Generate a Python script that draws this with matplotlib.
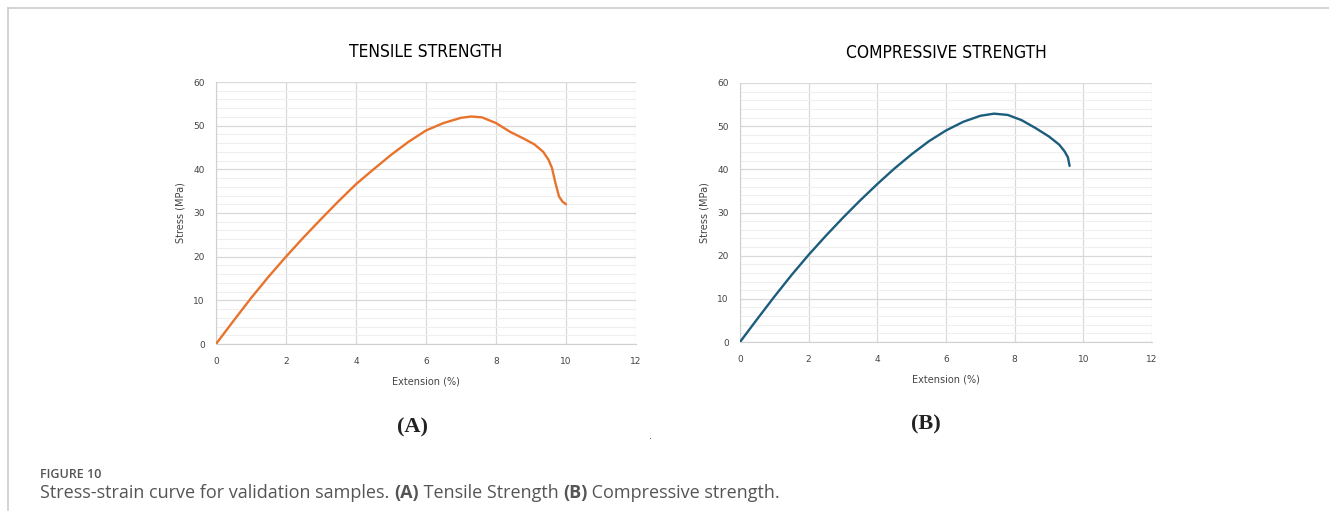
import matplotlib.pyplot as plt
from matplotlib.lines import Line2D

# tensile test curve, extension (%) vs stress (MPa)
tensile_ext = [0, 0.5, 1, 1.5, 2, 2.5, 3, 3.5, 4, 4.5, 5, 5.5, 6, 6.5, 7, 7.3,
               7.6, 8, 8.4, 8.8, 9.1, 9.35, 9.5, 9.6, 9.7, 9.8, 9.9, 10.0]
tensile_stress = [0, 5.3, 10.5, 15.4, 20.0, 24.4, 28.6, 32.7, 36.6, 40.0, 43.3,
                  46.3, 48.9, 50.6, 51.8, 52.1, 51.9, 50.6, 48.6, 47.0, 45.7,
                  44.0, 42.2, 40.3, 36.8, 33.8, 32.6, 32.0]

# compressive test curve
comp_ext = [0, 0.5, 1, 1.5, 2, 2.5, 3, 3.5, 4, 4.5, 5, 5.5, 6, 6.5, 7, 7.4,
            7.8, 8.2, 8.6, 9.0, 9.3, 9.45, 9.55, 9.6]
comp_stress = [0, 5.3, 10.5, 15.5, 20.2, 24.6, 28.8, 32.8, 36.6, 40.2, 43.5,
               46.5, 49.0, 51.0, 52.4, 52.9, 52.6, 51.4, 49.6, 47.6, 45.7,
               44.2, 42.8, 40.8]

x_ticks = [0, 2, 4, 6, 8, 10, 12]
y_ticks = [0, 10, 20, 30, 40, 50, 60]

W, H = 1329, 524
fig = plt.figure(figsize=(W / 100, H / 100), dpi=100)


def px_axes(x0, y0, x1, y1):
    return fig.add_axes([x0 / W, 1 - y1 / H, (x1 - x0) / W, (y1 - y0) / H])


def stress_plot(ax, x, y, color, title):
    ax.plot(x, y, color=color, lw=1.7, solid_capstyle='round', zorder=3)
    ax.set_xlim(0, 12)
    ax.set_ylim(0, 60)
    ax.set_xticks(x_ticks)
    ax.set_yticks(y_ticks)
    ax.set_yticks(range(0, 61, 2), minor=True)
    ax.grid(axis='y', which='minor', color='#efefef', lw=0.8)
    ax.grid(axis='both', which='major', color='#d9d9d9', lw=0.9)
    ax.tick_params(which='both', length=0, labelsize=6.5, labelcolor='#444444')
    ax.tick_params(axis='y', pad=8)
    ax.tick_params(axis='x', pad=9)
    for s in ax.spines.values():
        s.set_visible(False)
    for side in ('left', 'bottom'):
        ax.spines[side].set_visible(True)
        ax.spines[side].set_color('#d0d0d0')
    ax.set_xlabel('Extension (%)', fontsize=7, color='#444444', labelpad=8)
    ax.set_ylabel('Stress (MPa)', fontsize=7, color='#444444', labelpad=6)
    ax.set_title(title, fontsize=12.5, family='DejaVu Sans', stretch='condensed',
                 weight='medium', color='#000000', pad=18)


ax1 = px_axes(216, 82, 636, 344)
stress_plot(ax1, tensile_ext, tensile_stress, '#e8732c', 'TENSILE STRENGTH')

ax2 = px_axes(740, 83, 1152, 342)
stress_plot(ax2, comp_ext, comp_stress, '#1c5d7e', 'COMPRESSIVE STRENGTH')

# panel letters
fig.text(413 / W, 1 - 427 / H, '(A)', family='Liberation Serif', weight='bold',
         fontsize=16, ha='center', va='center', color='#222222')
fig.text(926 / W, 1 - 424 / H, '(B)', family='Liberation Serif', weight='bold',
         fontsize=16, ha='center', va='center', color='#222222')
fig.text(651 / W, 1 - 436 / H, '.', fontsize=7, color='#555555',
         ha='center', va='center')

# frame around the figure block
fig.add_artist(Line2D([8 / W, 1], [1 - 8 / H, 1 - 8 / H], color='#cccccc', lw=1.2))
fig.add_artist(Line2D([8 / W, 8 / W], [1 - 8 / H, 1 - 510 / H], color='#cccccc', lw=1.2))

# caption, bold panel refs chained after the plain text
fig.text(40 / W, 1 - 475 / H, 'FIGURE 10', family='Open Sans', weight='semibold',
         fontsize=9, color='#555555', va='center')
parts = [('Stress-strain curve for validation samples. ', 'normal'),
         ('(A)', 'bold'), (' Tensile Strength ', 'normal'),
         ('(B)', 'bold'), (' Compressive strength.', 'normal')]
anchor = fig.text(40 / W, 1 - 493 / H, parts[0][0], family='Open Sans',
                  fontsize=13, color='#555555', va='center')
for txt, wt in parts[1:]:
    anchor = plt.annotate(txt, xy=(1, 0), xycoords=anchor, va='bottom',
                          family='Open Sans', fontsize=13, weight=wt,
                          color='#555555', annotation_clip=False)

fig.savefig('out.png', dpi=100, facecolor='white')
